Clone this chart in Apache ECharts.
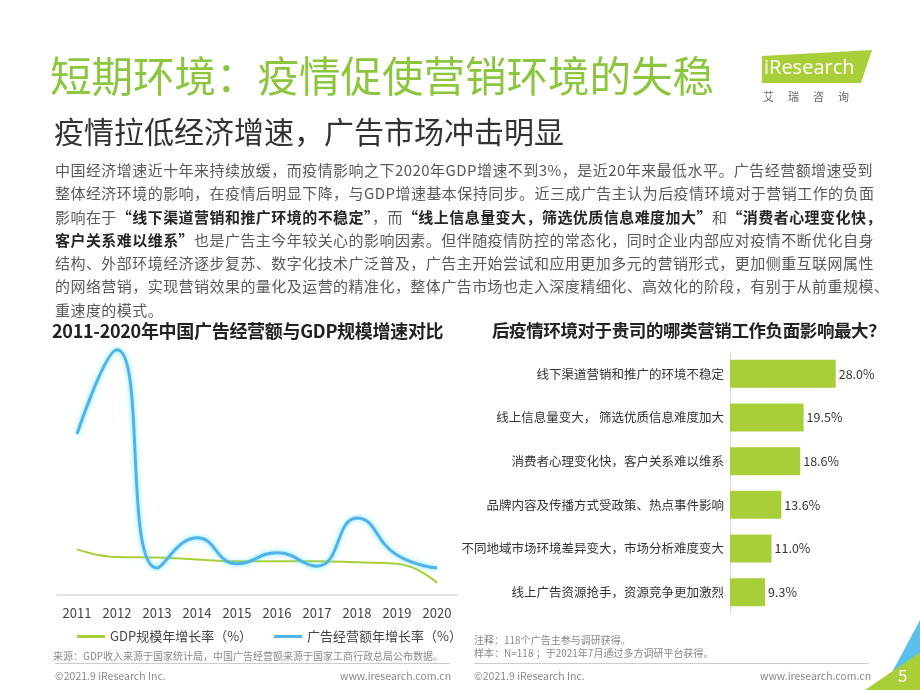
<!DOCTYPE html>
<html><head><meta charset="utf-8">
<script src="https://cdn.jsdelivr.net/npm/echarts@6/dist/echarts.min.js"></script>
<style>
body{margin:0;width:920px;height:690px;overflow:hidden;background:#fff;font-family:"Noto Sans CJK SC","Noto Sans",sans-serif;position:relative}
.abs{position:absolute;white-space:nowrap}
#main{position:absolute;left:0;top:0;width:920px;height:690px}
.para{position:absolute;left:55px;top:158px;font-size:15px;line-height:23.3px;color:#595959;white-space:nowrap;letter-spacing:0.45px}
.para b{color:#262626}
</style></head><body>
<div id="main"></div>
<div class="abs" style="left:50px;top:44px;font-size:41.5px;color:#8cc63e">短期环境：疫情促使营销环境的失稳</div>
<div class="abs" style="left:54px;top:108px;font-size:30px;color:#333">疫情拉低经济增速，广告市场冲击明显</div>
<div class="para">中国经济增速近十年来持续放缓，而疫情影响之下2020年GDP增速不到3%，是近20年来最低水平。广告经营额增速受到<br>整体经济环境的影响，在疫情后明显下降，与GDP增速基本保持同步。近三成广告主认为后疫情环境对于营销工作的负面<br>影响在于<b>“线下渠道营销和推广环境的不稳定”</b>，而<b>“线上信息量变大，筛选优质信息难度加大”</b>和<b>“消费者心理变化快，</b><br><b>客户关系难以维系”</b>也是广告主今年较关心的影响因素。但伴随疫情防控的常态化，同时企业内部应对疫情不断优化自身<br>结构、外部环境经济逐步复苏、数字化技术广泛普及，广告主开始尝试和应用更加多元的营销形式，更加侧重互联网属性<br>的网络营销，实现营销效果的量化及运营的精准化，整体广告市场也走入深度精细化、高效化的阶段，有别于从前重规模、<br>重速度的模式。</div>
<div class="abs" style="left:52px;top:317px;font-size:18px;font-weight:bold;color:#222;letter-spacing:-0.3px">2011-2020年中国广告经营额与GDP规模增速对比</div>
<div class="abs" style="left:492px;top:317px;font-size:17.5px;font-weight:bold;color:#222;letter-spacing:-0.4px">后疫情环境对于贵司的哪类营销工作负面影响最大？</div>
<!-- logo -->
<div class="abs" style="left:762px;top:50px;width:110px;height:33px;background:#a9cf38;clip-path:polygon(0 18%,100% 0,90% 100%,0 100%)"></div>
<div class="abs" style="left:764px;top:53px;font-size:20px;color:#fff;font-family:'Open Sans'">iResearch</div>
<div class="abs" style="left:763px;top:88px;font-size:11px;color:#666;letter-spacing:14px">艾瑞咨询</div>
<!-- footers -->
<div class="abs" style="left:53px;top:648px;font-size:10px;color:#888">来源：GDP收入来源于国家统计局，中国广告经营额来源于国家工商行政总局公布数据。</div>
<div class="abs" style="left:474px;top:633px;font-size:10px;color:#888;line-height:13px">注释：118个广告主参与调研获得。<br>样本：N=118 ；于2021年7月通过多方调研平台获得。</div>
<div class="abs" style="left:55px;top:663px;width:395px;border-top:1px solid #ccc"></div>
<div class="abs" style="left:474px;top:663px;width:395px;border-top:1px solid #ccc"></div>
<div class="abs" style="left:55px;top:668px;font-size:10.5px;color:#888">©2021.9 iResearch Inc.</div>
<div class="abs" style="left:340px;top:668px;font-size:10.5px;color:#888">www.iresearch.com.cn</div>
<div class="abs" style="left:474px;top:668px;font-size:10.5px;color:#888">©2021.9 iResearch Inc.</div>
<div class="abs" style="left:760px;top:668px;font-size:10.5px;color:#888">www.iresearch.com.cn</div>
<div class="abs" style="left:870px;top:620px;width:50px;height:70px;background:#5bc0eb;clip-path:polygon(100% 0,100% 100%,25% 100%)"></div>
<div class="abs" style="left:865px;top:640px;width:55px;height:50px;background:#a9cf38;clip-path:polygon(100% 25%,100% 100%,0 100%)"></div>
<div class="abs" style="left:898px;top:662px;font-size:17px;color:#fff">5</div>
<script>
const years = ['2011','2012','2013','2014','2015','2016','2017','2018','2019','2020'];
const gdpGrowth = [9.5, 7.9, 7.8, 7.4, 7.0, 7.0, 7.0, 6.8, 6.5, 2.5];
const adGrowth = [33.5, 51.0, 5.6, 11.9, 6.5, 8.8, 6.0, 16.0, 8.3, 5.6];
const impactItems = ['线下渠道营销和推广的环境不稳定','线上信息量变大， 筛选优质信息难度加大','消费者心理变化快，客户关系难以维系','品牌内容及传播方式受政策、热点事件影响','不同地域市场环境差异变大，市场分析难度变大','线上广告资源抢手，资源竞争更加激烈'];
const impactShare = [28.0, 19.5, 18.6, 13.6, 11.0, 9.3];

const font = '"Noto Sans CJK SC","Noto Sans",sans-serif';
const chart = echarts.init(document.getElementById('main'));
chart.setOption({
	animation: false,
	textStyle: {fontFamily: font},
	legend: {
		data: ['GDP规模年增长率（%）','广告经营额年增长率（%）'],
		left: 72, top: 625, itemWidth: 28, itemHeight: 3, itemGap: 22,
		icon: 'rect',
		textStyle: {fontSize: 13, color: '#444', fontFamily: font}
	},
	grid: [
		{left: 57, right: 463, top: 345, bottom: 95},
		{left: 730, right: 39, top: 352, bottom: 76}
	],
	xAxis: [
		{type: 'category', data: years, gridIndex: 0,
			axisLine: {lineStyle: {color: '#d9d9d9', width: 1.5}}, axisTick: {show: false},
			axisLabel: {fontSize: 13, color: '#444', margin: 12, fontFamily: font}},
		{type: 'value', gridIndex: 1, min: 0, max: 40, show: false}
	],
	yAxis: [
		{type: 'value', gridIndex: 0, min: 0, max: 52, show: false},
		{type: 'category', gridIndex: 1, data: impactItems, inverse: true,
			axisLine: {lineStyle: {color: '#d9d9d9'}}, axisTick: {show: false},
			axisLabel: {fontSize: 12.5, color: '#333', margin: 6, fontFamily: font}}
	],
	series: [
		{name: 'GDP规模年增长率（%）', type: 'line', smooth: true, symbol: 'none',
			data: gdpGrowth, itemStyle: {color: '#a9cf38'}, lineStyle: {color: '#a9cf38', width: 2}},
		{name: '广告经营额年增长率（%）', type: 'line', smooth: true, symbol: 'none',
			data: adGrowth, itemStyle: {color: '#4fb3ea'},
			lineStyle: {color: '#4fb3ea', width: 3, shadowColor: 'rgba(80,220,255,0.8)', shadowBlur: 5}},
		{type: 'bar', xAxisIndex: 1, yAxisIndex: 1, data: impactShare, barWidth: 28,
			itemStyle: {color: '#a9cf38'},
			label: {show: true, position: 'right', fontSize: 12.5, color: '#333', distance: 3, fontFamily: font,
				formatter: p => p.value.toFixed(1) + '%'}}
	]
});
</script>
</body></html>
